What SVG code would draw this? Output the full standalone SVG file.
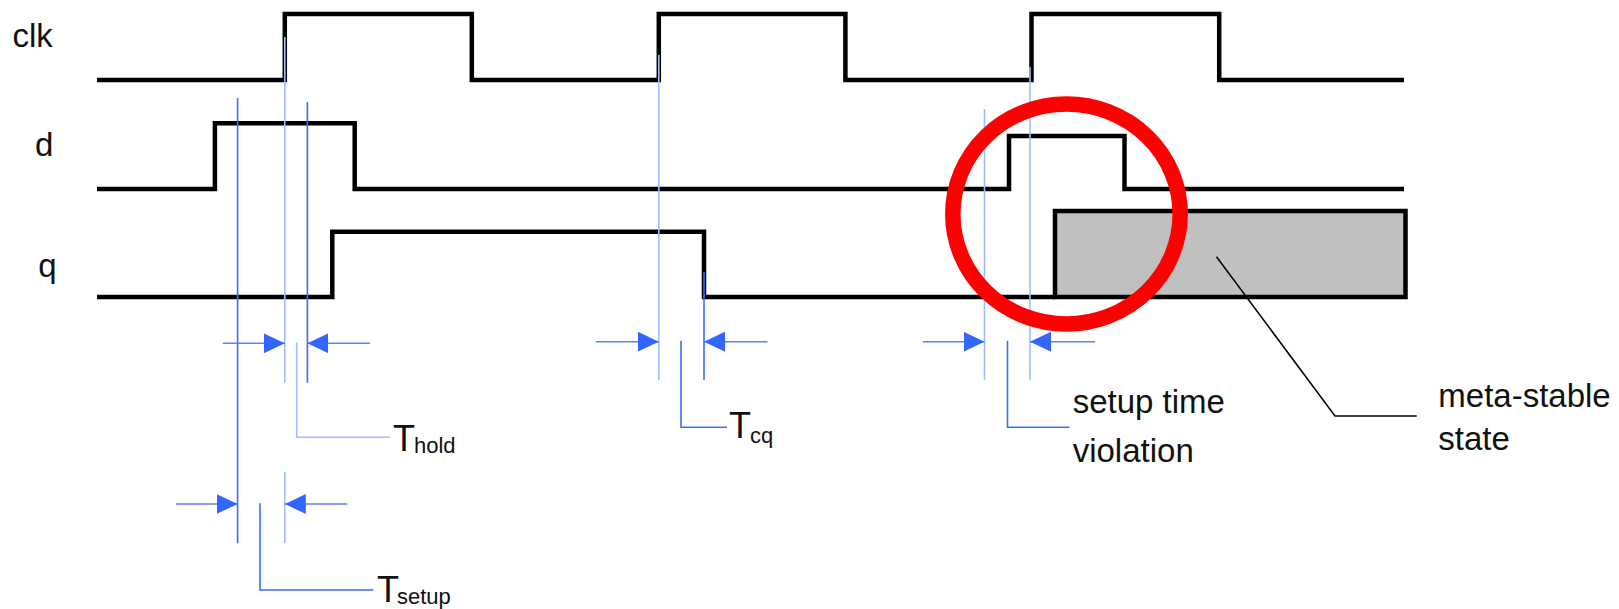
<svg xmlns="http://www.w3.org/2000/svg" width="1619" height="609" viewBox="0 0 1619 609">
<style>
.sig{fill:none;stroke:#000;stroke-width:4.5;stroke-linejoin:miter}
.lbl{font-family:"Liberation Sans",Arial,sans-serif;fill:#111}
.big{font-size:33px}
.tt{font-size:36px}
.sub{font-size:22px}
.dk{fill:none;stroke:#3d6bff;stroke-width:1.6}
.lt{fill:none;stroke:#a3bcff;stroke-width:1.6}
.ar{fill:none;stroke:#5a82ff;stroke-width:1.4;marker-end:url(#ah)}
</style>
<defs>
<marker id="ah" markerUnits="userSpaceOnUse" markerWidth="21" markerHeight="20" viewBox="0 0 21 20" refX="21" refY="10" orient="auto">
<path d="M0,0 L21,10 L0,20 Z" fill="#3366ff"/>
</marker>
</defs>
<rect width="1619" height="609" fill="#fff"/>

<g id="signal-clk">
<text class="lbl big" x="12.5" y="46.7" font-size="32">clk</text>
<path class="sig" d="M97,80 H284.8 V14 H471.8 V80 H658.8 V14 H845.4 V80 H1031.5 V14 H1219.2 V80 H1404"/>
</g>
<g id="signal-d">
<text class="lbl big" x="35" y="156" font-size="32">d</text>
<path class="sig" d="M97,189 H214.9 V123.3 H354.7 V189 H1009 V136 H1124.5 V189 H1404"/>
</g>
<g id="signal-q">
<text class="lbl big" x="38.3" y="277.3" font-size="32">q</text>
<path class="sig" d="M97,297 H332.3 V231.7 H704 V297 H1055"/>
<rect id="meta-box" x="1055" y="211" width="350.5" height="86" fill="#c0c0c0" stroke="#000" stroke-width="4.5"/>
</g>

<g id="connectors">
<path class="dk" d="M237.6,98 V543.3"/>
<path class="dk" d="M307.4,102 V382.7"/>
<path class="dk" d="M704,272 V380"/>
<path class="lt" d="M284.8,37 V382.7 M284.8,471.7 V543.3"/>
<path class="lt" d="M658.8,55 V380"/>
<path class="lt" d="M984.5,109 V380"/>
<path class="lt" d="M1030,67 V380"/>
<path class="lt" d="M296.7,342.7 V437.3 H390"/>
<path class="dk" d="M260,503.3 V590 H373.3"/>
<path class="dk" d="M681,340.7 V427.3 H727"/>
<path class="dk" d="M1007.5,340.7 V427.3 H1069.3"/>
<path class="ar" d="M222.7,343.3 H284.8"/>
<path class="ar" d="M370,343.3 H307.4"/>
<path class="ar" d="M176,504 H237.6"/>
<path class="ar" d="M347.3,504 H284.8"/>
<path class="ar" d="M596,341.7 H658.8"/>
<path class="ar" d="M767.5,341.7 H704"/>
<path class="ar" d="M922.9,341.7 H984.5"/>
<path class="ar" d="M1095,341.7 H1030"/>
<path d="M1216.5,256.7 L1335,416 H1416.7" fill="none" stroke="#000" stroke-width="1.5"/>
</g>

<g id="label-thold">
<text class="lbl tt" x="393" y="450.7">T</text>
<text class="lbl sub" x="414" y="453.3">hold</text>
</g>
<g id="label-tcq">
<text class="lbl tt" x="729" y="437.7">T</text>
<text class="lbl sub" x="750" y="442.7">cq</text>
</g>
<g id="label-tsetup">
<text class="lbl tt" x="377" y="601.7">T</text>
<text class="lbl sub" x="397" y="604">setup</text>
</g>
<g id="label-violation">
<text class="lbl big" x="1072.7" y="413.3">setup time</text>
<text class="lbl big" x="1072.7" y="461.7">violation</text>
</g>
<g id="label-meta">
<text class="lbl big" x="1438.3" y="406.7">meta-stable</text>
<text class="lbl big" x="1438.3" y="450">state</text>
</g>

<g id="highlight-circle">
<ellipse cx="1066.5" cy="214" rx="113.7" ry="110" fill="none" stroke="#ff0000" stroke-width="15.5"/>
</g>
</svg>
